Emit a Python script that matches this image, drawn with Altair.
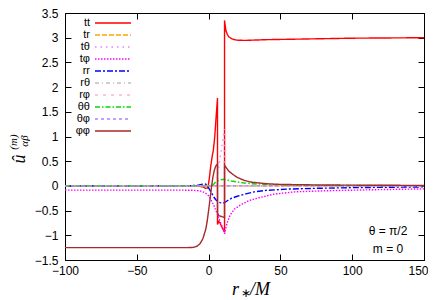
import altair as alt
import pandas as pd

names = ["tt", "tr", "tθ", "tφ", "rr", "rθ", "rφ", "θθ", "θφ", "φφ"]
colors = ["#ff0000", "#ffa500", "#ee82ee", "#ff00ff", "#0000ff",
          "#c0c0c0", "#ffb6c1", "#00dd00", "#b080ff", "#a52a2a"]
dashes = [[1, 0], [5, 2], [1.5, 4], [1.5, 1.5], [6, 2, 2, 2],
          [4, 3, 1, 3], [3, 5], [5, 2, 1.5, 2], [3, 3], [1, 0]]

tt_x = [-100, -20, -8, -4, -2, -0.5, 0.5, 1.5, 2.5, 3.3, 4.3, 5.2, 6.2, 6.2, 7, 8, 9, 10, 11.1, 11.1,
        12, 13, 14, 16, 18, 20, 25, 30, 40, 60, 80, 100, 125, 150]
tt_y = [0, 0, 0, -0.02, -0.05, -0.04, 0.15, 0.4, 0.6, 0.72, 1.0, 1.38, 1.78, -0.78, -0.72, -0.75, -0.82, -0.88, -0.92, 3.35,
        3.15, 3.07, 3.02, 2.98, 2.96, 2.95, 2.945, 2.95, 2.96, 2.97, 2.98, 2.99, 2.995, 3.0]

tr_x = [-100, 150]
tr_y = [0, 0]

tth_x = [-100, 6.2, 6.2, 7, 8, 9, 10, 11.1, 11.1, 150]
tth_y = [0, 0, 0.2, 0.38, 0.57, 0.76, 0.95, 1.15, 0, 0]

tph_x = [-100, -20, -10, -6, -4, -2, 0, 2, 4, 6.2, 8, 10, 11.1, 12, 13, 15, 18, 22, 28, 35, 45, 60, 80, 110, 150]
tph_y = [-0.085, -0.085, -0.09, -0.1, -0.12, -0.15, -0.2, -0.3, -0.42, -0.58, -0.72, -0.86, -0.97, -0.85, -0.74,
         -0.59, -0.47, -0.39, -0.3, -0.24, -0.17, -0.12, -0.1, -0.08, -0.06]

rr_x = [-100, -20, -8, -5, -3, -2, -1, 0, 1, 2, 3, 4, 5, 6.2, 8, 10, 11.1, 13, 16, 20, 26, 32, 40, 55, 73, 100, 150]
rr_y = [0, 0, 0.01, 0.03, 0.04, 0.035, 0.01, -0.04, -0.09, -0.14, -0.19, -0.24, -0.28, -0.31, -0.34, -0.35, -0.34,
        -0.3, -0.25, -0.21, -0.16, -0.12, -0.09, -0.065, -0.05, -0.035, -0.02]

rth_x = [-100, 150]
rth_y = [0, 0]

rph_x = [-100, 150]
rph_y = [0, 0]

thth_x = [-100, 0, 2, 3, 4, 5, 6.2, 8, 9.5, 11.1, 13, 16, 20, 25, 30, 40, 60, 80, 150]
thth_y = [0, 0, 0.005, 0.02, 0.05, 0.08, 0.1, 0.12, 0.13, 0.13, 0.12, 0.1, 0.08, 0.06, 0.045, 0.03, 0.015, 0.01, 0.005]

thph_x = [-100, 150]
thph_y = [0, 0]

phph_x = [-100, -20, -12, -10, -8, -6, -4, -2, -1, 0, 1, 2, 3, 4, 5, 6.2, 6.2, 7, 9, 11.1, 11.1,
          12, 14, 17, 20, 25, 30, 40, 50, 75, 100, 150]
phph_y = [-1.25, -1.25, -1.248, -1.24, -1.22, -1.17, -1.07, -0.88, -0.72, -0.5, -0.27, -0.03, 0.18, 0.32, 0.4, 0.45,
          -0.55, -0.6, -0.62, -0.64, 0.42, 0.38, 0.3, 0.23, 0.17, 0.11, 0.075, 0.045, 0.03, 0.02, 0.015, 0.01]

series = [(tt_x, tt_y), (tr_x, tr_y), (tth_x, tth_y), (tph_x, tph_y), (rr_x, rr_y),
          (rth_x, rth_y), (rph_x, rph_y), (thth_x, thth_y), (thph_x, thph_y), (phph_x, phph_y)]

x_ticks = [-100, -50, 0, 50, 100, 150]
y_ticks = [-1.5, -1, -0.5, 0, 0.5, 1, 1.5, 2, 2.5, 3, 3.5]

rows = []
for name, (xs, ys) in zip(names, series):
    for i, (a, b) in enumerate(zip(xs, ys)):
        rows.append({"comp": name, "i": i, "x": a, "y": b})
df = pd.DataFrame(rows)

W, H = 359, 247
FONT = "Liberation Sans"
SERIF = "Liberation Serif"

xscale = alt.Scale(domain=[-100, 150], nice=False, zero=False)
yscale = alt.Scale(domain=[-1.5, 3.5], nice=False, zero=False)


def make_legend():
    return alt.Legend(title=None, orient="none", legendX=41, legendY=3,
                      symbolType="M-3,0H3", symbolSize=144, symbolStrokeWidth=1.5,
                      labelAlign="right", labelOffset={"expr": "-30"}, labelFont=FONT,
                      labelFontSize=11, labelColor="black", rowPadding=0, padding=0)


lines = alt.Chart(df).mark_line(strokeWidth=1.4, clip=True).encode(
    x=alt.X("x:Q", scale=xscale,
            axis=alt.Axis(orient="bottom", values=x_ticks, title=None, grid=False, domain=False,
                          offset=-6, tickSize=6, tickColor="black", labelPadding=5,
                          labelAlign={"condition": {"test": "datum.value === 150", "value": "right"},
                                      "value": "center"},
                          labelOffset={"expr": "datum.value === 150 ? 4 : 0"},
                          labelFont=FONT, labelFontSize=12, labelColor="black", format="d")),
    y=alt.Y("y:Q", scale=yscale,
            axis=alt.Axis(orient="left", values=y_ticks, title=None, grid=False, domain=False,
                          offset=-6, tickSize=6, tickColor="black", labelPadding=7,
                          labelFont=FONT, labelFontSize=12, labelColor="black", format="~g")),
    color=alt.Color("comp:N", scale=alt.Scale(domain=names, range=colors), legend=make_legend()),
    strokeDash=alt.StrokeDash("comp:N", scale=alt.Scale(domain=names, range=dashes), legend=make_legend()),
    order=alt.Order("i:Q"),
)

anchor = pd.DataFrame({"x": [-100], "y": [0]})
frame = alt.Chart(anchor).mark_point(opacity=0).encode(
    x=alt.X("x:Q", scale=xscale,
            axis=alt.Axis(orient="top", values=x_ticks, title=None, grid=False, domain=False,
                          labels=False, offset=-6, tickSize=6, tickColor="black")),
    y=alt.Y("y:Q", scale=yscale,
            axis=alt.Axis(orient="right", values=y_ticks, title=None, grid=False, domain=False,
                          labels=False, offset=-6, tickSize=6, tickColor="black")),
)

one = pd.DataFrame({"k": [0]})


def label(text, x, y, size, font=FONT, style="normal", angle=0, align="center", baseline="middle"):
    return alt.Chart(one).mark_text(
        text=text, font=font, fontSize=size, fontStyle=style, angle=angle,
        align=align, baseline=baseline, color="black"
    ).encode(x=alt.value(x), y=alt.value(y))


texts = [
    label("θ = π/2", 323, 218, 12),
    label("m = 0", 323, 236, 12),
    label("r", 167, 282, 18, font=SERIF, style="italic", align="left", baseline="alphabetic"),
    label("∗", 176, 284, 12, font=SERIF, align="left", baseline="alphabetic"),
    label("/M", 185, 282, 18, font=SERIF, style="italic", align="left", baseline="alphabetic"),
    label("û", -45, 146, 18, font=SERIF, style="italic", angle=270),
    label("(m)", -51, 129, 11, font=SERIF, style="italic", angle=270),
    label("αβ", -40, 128, 11, font=SERIF, style="italic", angle=270),
]

chart = alt.layer(lines, frame, *texts).resolve_axis(x="independent", y="independent").properties(
    width=W, height=H,
    autosize=alt.AutoSizeParams(type="none"),
    padding={"left": 57, "top": 5, "right": 4, "bottom": 39},
).configure_view(stroke="black", strokeWidth=1).configure_axis(tickWidth=1)

chart.save("out.html", embed_options={"renderer": "svg", "actions": False})
